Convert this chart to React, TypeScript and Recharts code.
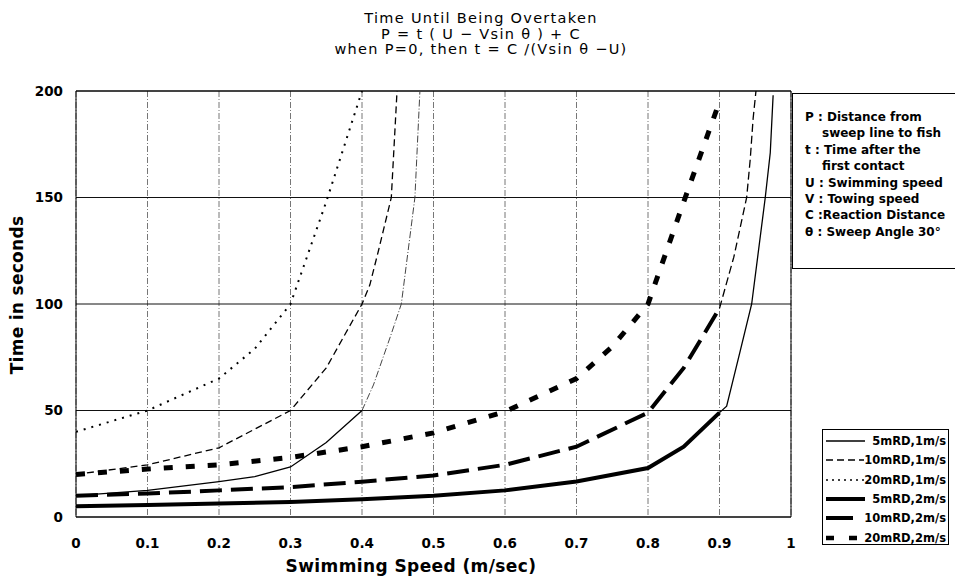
import { CartesianGrid, Line, LineChart, ReferenceLine, XAxis, YAxis } from 'recharts'

// [swimming speed (m/s), time (s)]
const rd5v1 = [[0, 10], [0.1, 12.5], [0.2, 16.6], [0.25, 19], [0.3, 23.5], [0.35, 35], [0.4, 50]]
const rd5v1Tail = [[0.4, 50], [0.416, 62], [0.44, 85], [0.455, 100], [0.474, 150], [0.481, 200]]
const rd10v1 = [[0, 20], [0.1, 24.5], [0.2, 32.5], [0.3, 50], [0.35, 70], [0.4, 100], [0.411, 109], [0.423, 125], [0.441, 150], [0.449, 200]]
const rd20v1 = [[0, 40], [0.1, 50], [0.2, 65], [0.25, 79], [0.3, 100], [0.35, 148], [0.4, 200]]
const rd5v2 = [[0, 5], [0.1, 5.6], [0.2, 6.3], [0.3, 7.1], [0.4, 8.3], [0.5, 10], [0.6, 12.5], [0.7, 16.7], [0.8, 23], [0.85, 33], [0.9, 49]]
const rd5v2Tail = [[0.9, 49], [0.91, 52], [0.929, 78], [0.945, 100], [0.964, 150], [0.971, 171], [0.975, 198]]
const rd10v2 = [[0, 10], [0.1, 11], [0.2, 12.5], [0.3, 14], [0.4, 16.6], [0.5, 19.5], [0.6, 24.5], [0.7, 33], [0.8, 49], [0.85, 70], [0.9, 98]]
const rd10v2Tail = [[0.9, 98], [0.92, 122], [0.938, 150], [0.943, 168], [0.947, 187], [0.951, 200]]
const rd20v2 = [[0, 20], [0.1, 22.5], [0.2, 24.5], [0.3, 28], [0.4, 33], [0.5, 39.5], [0.6, 49.5], [0.7, 65], [0.75, 80], [0.8, 100], [0.85, 148], [0.9, 195]]

const X_TICKS = [0, 0.1, 0.2, 0.3, 0.4, 0.5, 0.6, 0.7, 0.8, 0.9, 1]
const Y_TICKS = [0, 50, 100, 150, 200]

const TITLE_LINES = [
  'Time Until Being Overtaken',
  'P = t ( U − Vsin θ ) + C',
  'when P=0, then t = C /(Vsin θ −U)',
]

const NOTE_LINES = [
  { text: 'P : Distance from', indent: false },
  { text: 'sweep line to fish', indent: true },
  { text: 't : Time after the', indent: false },
  { text: 'first contact', indent: true },
  { text: 'U : Swimming speed', indent: false },
  { text: 'V : Towing speed', indent: false },
  { text: 'C :Reaction Distance', indent: false },
  { text: 'θ : Sweep Angle 30°', indent: false },
]

const FONT = '"DejaVu Sans", "Liberation Sans", sans-serif'

const toPts = (arr: number[][]) => arr.map(([u, t]) => ({ u, t }))

const SERIES = [
  { name: '5mRD,1m/s', data: rd5v1, width: 1.3, dash: undefined },
  { name: '10mRD,1m/s', data: rd10v1, width: 1.3, dash: '7 4' },
  { name: '20mRD,1m/s', data: rd20v1, width: 2, dash: '2 6' },
  { name: '5mRD,2m/s', data: rd5v2, width: 4, dash: undefined },
  { name: '10mRD,2m/s', data: rd10v2, width: 4, dash: '22 9' },
  { name: '20mRD,2m/s', data: rd20v2, width: 5, dash: '9 13' },
]

const TAILS = [
  { key: 'rd5v1t', data: rd5v1Tail, width: 1, dash: '7 2 1 2', color: '#444' },
  { key: 'rd5v2t', data: rd5v2Tail, width: 1.3, dash: undefined, color: '#000' },
  { key: 'rd10v2t', data: rd10v2Tail, width: 1.3, dash: '8 4', color: '#000' },
]

const LEGEND_SAMPLES = [
  { width: 1.3, dash: undefined },
  { width: 1.3, dash: '7 4' },
  { width: 1.6, dash: '2 4' },
  { width: 4, dash: undefined },
  { width: 4, dash: '27 20' },
  { width: 4.5, dash: '8 15' },
]

export default function App() {
  return (
    <div style={{ position: 'absolute', left: 0, top: 0, width: 955, height: 587, background: '#fff', fontFamily: FONT }}>
      <LineChart width={955} height={587} margin={{ top: 91, right: 164, bottom: 30, left: 16 }}>
        <CartesianGrid horizontal={false} stroke="#777" strokeDasharray="6 2 1 2" />
        <CartesianGrid vertical={false} stroke="#111" />
        <XAxis
          type="number"
          dataKey="u"
          domain={[0, 1]}
          ticks={X_TICKS}
          allowDataOverflow
          height={40}
          tickLine={false}
          tickMargin={15}
          axisLine={{ stroke: '#000' }}
          tick={{ fill: '#000', fontSize: 13.5, fontWeight: 700, fontFamily: FONT }}
        />
        <YAxis
          type="number"
          domain={[0, 200]}
          ticks={Y_TICKS}
          allowDataOverflow
          width={60}
          tickLine={false}
          tickMargin={7}
          axisLine={{ stroke: '#000' }}
          tick={{ fill: '#000', fontSize: 13.5, fontWeight: 700, fontFamily: FONT }}
        />
        <ReferenceLine y={200} stroke="#000" />
        <ReferenceLine x={1} stroke="#000" />
        {TAILS.map((s) => (
          <Line
            key={s.key}
            data={toPts(s.data)}
            dataKey="t"
            stroke={s.color}
            strokeWidth={s.width}
            strokeDasharray={s.dash}
            dot={false}
            activeDot={false}
            legendType="none"
            isAnimationActive={false}
          />
        ))}
        {SERIES.map((s) => (
          <Line
            key={s.name}
            name={s.name}
            data={toPts(s.data)}
            dataKey="t"
            stroke="#000"
            strokeWidth={s.width}
            strokeDasharray={s.dash}
            dot={false}
            activeDot={false}
            isAnimationActive={false}
          />
        ))}
      </LineChart>

      {/* title */}
      {TITLE_LINES.map((line, i) => (
        <div
          key={line}
          style={{ position: 'absolute', left: 281, width: 400, top: 11 + i * 15.5, height: 15, textAlign: 'center', fontSize: 14.5, lineHeight: '15px', letterSpacing: 1.3, color: '#000', whiteSpace: 'nowrap' }}
        >
          {line}
        </div>
      ))}

      {/* axis titles */}
      <div style={{ position: 'absolute', left: 211, width: 400, top: 555, textAlign: 'center', fontSize: 17, letterSpacing: 0.4, fontWeight: 700, lineHeight: '22px' }}>
        Swimming Speed (m/sec)
      </div>
      <div
        style={{ position: 'absolute', left: 17, top: 295, transform: 'translate(-50%, -50%) rotate(-90deg)', fontSize: 17, letterSpacing: 0.3, fontWeight: 700, whiteSpace: 'nowrap' }}
      >
        Time in seconds
      </div>

      {/* definitions box */}
      <div style={{ position: 'absolute', left: 792, top: 93, width: 170, height: 176, border: '1px solid #000', boxSizing: 'border-box' }}>
        {NOTE_LINES.map((l, i) => (
          <div
            key={l.text}
            style={{ position: 'absolute', left: l.indent ? 29 : 12, top: 15 + i * 16.4, fontSize: 12, fontWeight: 700, whiteSpace: 'nowrap', lineHeight: '16px' }}
          >
            {l.text}
          </div>
        ))}
      </div>

      {/* series legend */}
      <div style={{ position: 'absolute', left: 822, top: 429, width: 127, height: 116, border: '1px solid #000', boxSizing: 'border-box' }}>
        {SERIES.map((s, i) => (
          <div key={s.name} style={{ position: 'absolute', left: 0, right: 2, top: 2 + i * 19.3, height: 18, display: 'flex', alignItems: 'center' }}>
            <svg width={42} height={18} style={{ marginLeft: 2 }}>
              <line
                x1={1}
                x2={40}
                y1={9}
                y2={9}
                stroke="#000"
                strokeWidth={LEGEND_SAMPLES[i].width}
                strokeDasharray={LEGEND_SAMPLES[i].dash}
              />
            </svg>
            <span style={{ marginLeft: 'auto', fontSize: 11.5, fontWeight: 700, whiteSpace: 'nowrap' }}>{s.name}</span>
          </div>
        ))}
      </div>
    </div>
  )
}
